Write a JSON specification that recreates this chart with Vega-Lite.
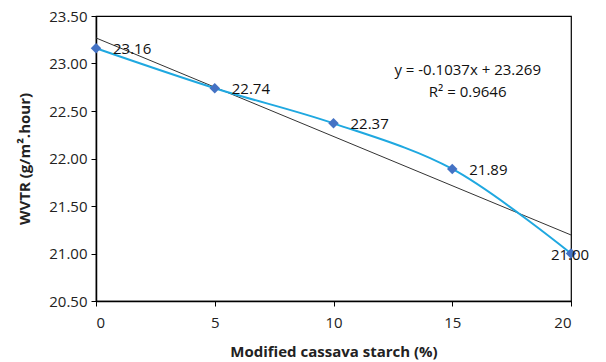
{
  "$schema": "https://vega.github.io/schema/vega-lite/v6.json",
  "width": 475,
  "height": 285,
  "autosize": {"type": "none"},
  "padding": {"left": 96, "top": 16, "right": 35, "bottom": 61},
  "background": "white",
  "config": {
    "view": {"stroke": "black", "strokeWidth": 1.2},
    "font": "Open Sans",
    "axis": {
      "grid": false,
      "domainColor": "black",
      "domainWidth": 1.5,
      "tickColor": "black",
      "tickSize": 5,
      "labelFont": "Open Sans",
      "labelFontSize": 15,
      "labelColor": "#222222",
      "titleFont": "Open Sans",
      "titleFontSize": 15,
      "titleFontWeight": "bold",
      "titleColor": "#222222"
    }
  },
  "datasets": {
    "pts": [
      {"starch": 0, "wvtr": 23.16, "label": "23.16"},
      {"starch": 5, "wvtr": 22.74, "label": "22.74"},
      {"starch": 10, "wvtr": 22.37, "label": "22.37"},
      {"starch": 15, "wvtr": 21.89, "label": "21.89"},
      {"starch": 20, "wvtr": 21.00, "label": "21.00"}
    ],
    "trend": [
      {"starch": 0, "wvtr": 23.269},
      {"starch": 20, "wvtr": 21.195}
    ],
    "eq": [
      {"starch": 15.65, "wvtr": 22.93, "text": "y = -0.1037x + 23.269"},
      {"starch": 15.65, "wvtr": 22.70, "text": "R² = 0.9646"}
    ]
  },
  "encoding": {
    "x": {
      "field": "starch", "type": "quantitative",
      "scale": {"domain": [0, 20], "nice": false, "zero": false},
      "axis": {"values": [0, 5, 10, 15, 20], "title": "Modified cassava starch (%)", "titlePadding": 14, "labelPadding": 9}
    },
    "y": {
      "field": "wvtr", "type": "quantitative",
      "scale": {"domain": [20.5, 23.5], "nice": false, "zero": false},
      "axis": {"values": [20.5, 21, 21.5, 22, 22.5, 23, 23.5], "format": ".2f", "title": "WVTR (g/m².hour)", "titlePadding": 16, "labelPadding": 4}
    }
  },
  "layer": [
    {
      "data": {"name": "trend"},
      "mark": {"type": "line", "color": "#333333", "strokeWidth": 1}
    },
    {
      "data": {"name": "pts"},
      "mark": {"type": "line", "interpolate": "catmull-rom", "color": "#1FA8E0", "strokeWidth": 2}
    },
    {
      "data": {"name": "pts"},
      "mark": {"type": "point", "shape": "diamond", "filled": true, "size": 110, "color": "#4472C4", "opacity": 1}
    },
    {
      "data": {"name": "pts"},
      "transform": [{"filter": "datum.starch < 20"}],
      "mark": {"type": "text", "align": "left", "baseline": "middle", "dx": 17, "dy": 1, "fontSize": 15, "color": "#111111"},
      "encoding": {"text": {"field": "label"}}
    },
    {
      "data": {"name": "pts"},
      "transform": [{"filter": "datum.starch == 20"}],
      "mark": {"type": "text", "align": "center", "baseline": "middle", "dx": -1, "dy": 1, "fontSize": 15, "color": "#111111"},
      "encoding": {"text": {"field": "label"}}
    },
    {
      "data": {"name": "eq"},
      "mark": {"type": "text", "align": "center", "baseline": "middle", "fontSize": 15, "color": "#111111"},
      "encoding": {"text": {"field": "text"}}
    }
  ]
}
